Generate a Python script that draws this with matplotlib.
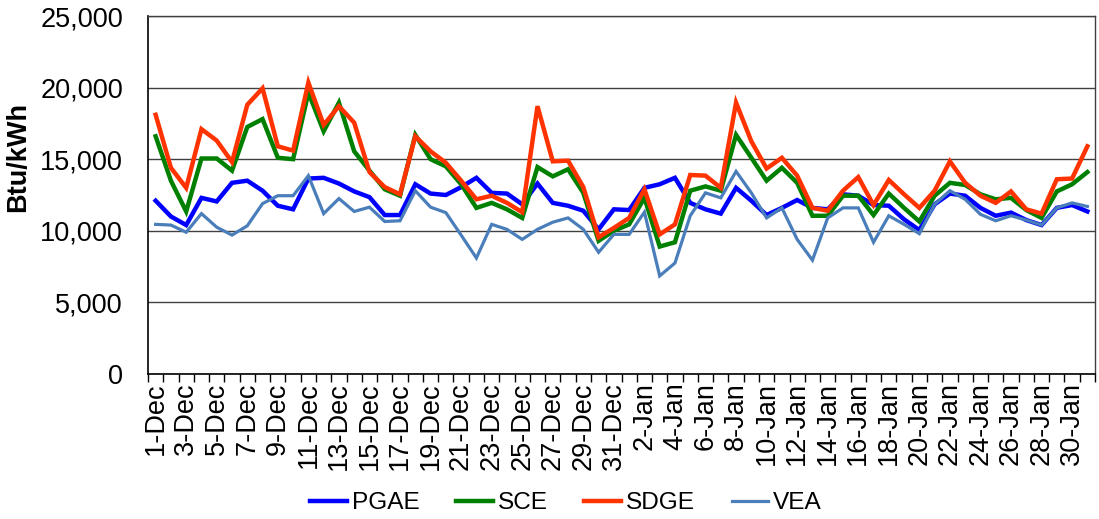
import matplotlib
matplotlib.use("Agg")
import matplotlib.pyplot as plt
from matplotlib.ticker import FuncFormatter, FixedLocator

plt.rcParams['font.family'] = ['Liberation Sans', 'DejaVu Sans']

days = [f"{d}-Dec" for d in range(1, 32)] + [f"{d}-Jan" for d in range(1, 32)]

pgae = [12100, 11000, 10400, 12300, 12050, 13350, 13500, 12800, 11750, 11500,
        13650, 13700, 13300, 12750, 12350, 11100, 11100, 13250, 12600, 12500,
        13050, 13700, 12650, 12600, 11850, 13300, 11950, 11750, 11400, 10100,
        11500, 11450, 13000, 13250, 13700, 11950, 11500, 11200, 13000, 12100,
        11100, 11600, 12150, 11600, 11500, 12550, 12450, 11800, 11750, 10800,
        10050, 11850, 12600, 12450, 11600, 11050, 11270, 10750, 10400, 11600,
        11800, 11350]

sce = [16600, 13500, 11350, 15050, 15050, 14200, 17250, 17800, 15100, 15000,
       19650, 16950, 18950, 15550, 14200, 12900, 12450, 16700, 15000, 14500,
       13250, 11600, 11950, 11500, 10900, 14450, 13800, 14300, 12650, 9300,
       10000, 10450, 12300, 8900, 9200, 12800, 13100, 12800, 16700, 15100,
       13500, 14400, 13350, 11050, 11050, 12450, 12450, 11100, 12600, 11600,
       10650, 12450, 13350, 13200, 12550, 12200, 12300, 11450, 10900, 12750,
       13250, 14100]

sdge = [18100, 14400, 13000, 17100, 16300, 14800, 18800, 19950, 15900, 15600,
        20350, 17400, 18700, 17550, 14100, 13050, 12550, 16600, 15550, 14750,
        13500, 12200, 12450, 11950, 11300, 18700, 14850, 14900, 13050, 9550,
        10200, 10900, 12900, 9750, 10450, 13900, 13850, 13000, 18950, 16250,
        14350, 15100, 13850, 11600, 11400, 12800, 13750, 11800, 13550, 12550,
        11600, 12800, 14850, 13350, 12450, 11950, 12750, 11500, 11200, 13600,
        13650, 15900]

vea = [10450, 10400, 9900, 11200, 10250, 9700, 10350, 11900, 12450, 12450,
       13850, 11200, 12250, 11350, 11650, 10650, 10700, 12800, 11650, 11270,
       9700, 8100, 10450, 10100, 9400, 10100, 10600, 10900, 10100, 8500,
       9750, 9750, 11300, 6850, 7750, 11050, 12650, 12300, 14150, 12650,
       10900, 11600, 9400, 7950, 10900, 11600, 11600, 9200, 11050, 10450,
       9800, 11850, 12800, 12200, 11150, 10700, 11050, 10750, 10400, 11600,
       11950, 11700]

series = [("PGAE", pgae, "#0000FF", 3.2),
          ("SCE", sce, "#008000", 3.2),
          ("SDGE", sdge, "#FF3300", 3.2),
          ("VEA", vea, "#4A7EBB", 2.3)]

FS = 19.5

fig = plt.figure(figsize=(10.99, 5.19), dpi=100)
ax = fig.add_axes([148/1099, 1-374/519, (1095-148)/1099, (374-16)/519])

x = list(range(len(days)))
for name, vals, col, lw in series:
    ax.plot(x, vals, color=col, lw=lw, label=name, solid_joinstyle='miter')

ax.set_xlim(-0.5, len(days)-0.5)
ax.set_ylim(0, 25000)
ax.set_yticks(range(0, 25001, 5000))
ax.yaxis.set_major_formatter(FuncFormatter(lambda v, p: f"{v:,.0f}"))
ax.grid(axis='y', color='#404040', lw=1.0)
ax.set_axisbelow(True)

ax.set_xticks(x[::2])
ax.set_xticklabels(days[::2], rotation=90, fontsize=FS)
ax.xaxis.set_minor_locator(FixedLocator([i - 0.5 for i in range(len(days)+1)]))
ax.tick_params(axis='x', which='major', length=0, pad=6)
ax.tick_params(axis='x', which='minor', length=6, width=1, color='black', direction='out')
ax.tick_params(axis='y', length=0, pad=18, labelsize=FS)

for s in ['left', 'bottom']:
    ax.spines[s].set_color('black')
    ax.spines[s].set_linewidth(1.2)
for s in ['top', 'right']:
    ax.spines[s].set_color('#404040')
    ax.spines[s].set_linewidth(1.0)

fig.text(18/1099, 1-157/519, "Btu/kWh", fontsize=FS, fontweight='bold',
         rotation=90, ha='center', va='center')

fig.legend(loc='center', bbox_to_anchor=(566/1099, 1-503/519), ncol=4, frameon=False,
           fontsize=17.6, handlelength=1.5, handletextpad=0.2, columnspacing=1.5)

fig.savefig("out.png", dpi=100)
